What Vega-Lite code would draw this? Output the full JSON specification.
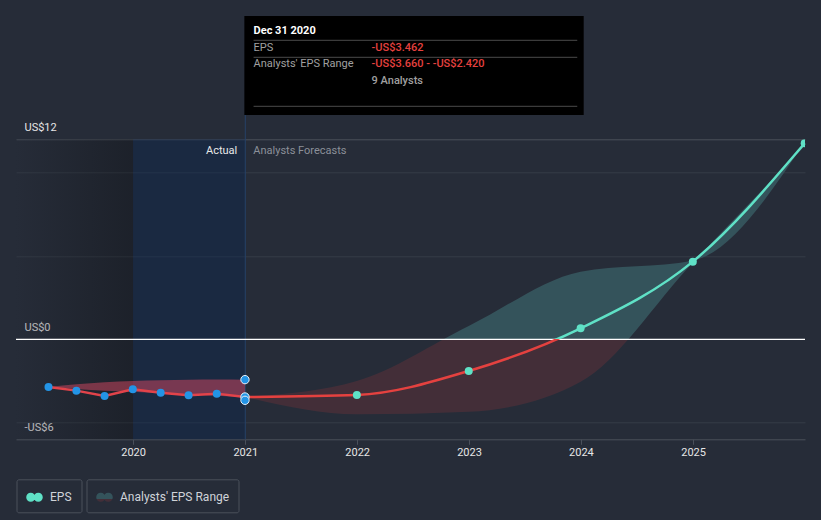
{
  "$schema": "https://vega.github.io/schema/vega-lite/v6.json",
  "width": 789,
  "height": 300,
  "autosize": {"type": "none"},
  "padding": {"left": 16, "top": 139.3, "right": 16, "bottom": 80.7},
  "background": "#262c38",
  "config": {
    "view": {"stroke": null},
    "font": "Roboto",
    "legend": {
      "strokeColor": "#4a505b",
      "cornerRadius": 2,
      "padding": 9,
      "labelFontSize": 12,
      "labelColor": "#d0d3d8",
      "labelFont": "Roboto",
      "symbolSize": 324,
      "symbolStrokeWidth": 0,
      "labelOffset": 6.5,
      "direction": "horizontal"
    }
  },
  "datasets": {
    "one": [{}],
    "actual": [
      {"date": "2019-03-31", "eps": -2.86},
      {"date": "2019-06-30", "eps": -3.08},
      {"date": "2019-09-30", "eps": -3.40},
      {"date": "2019-12-31", "eps": -3.00},
      {"date": "2020-03-31", "eps": -3.20},
      {"date": "2020-06-30", "eps": -3.36},
      {"date": "2020-09-30", "eps": -3.26},
      {"date": "2020-12-31", "eps": -3.462}
    ],
    "actualRange": [
      {"date": "2019-03-31", "lo": -2.86, "hi": -2.86},
      {"date": "2019-06-30", "lo": -2.98, "hi": -2.70},
      {"date": "2019-09-30", "lo": -3.08, "hi": -2.58},
      {"date": "2019-12-31", "lo": -3.14, "hi": -2.50},
      {"date": "2020-03-31", "lo": -3.22, "hi": -2.45},
      {"date": "2020-06-30", "lo": -3.30, "hi": -2.42},
      {"date": "2020-09-30", "lo": -3.38, "hi": -2.41},
      {"date": "2020-12-31", "lo": -3.46, "hi": -2.42}
    ],
    "forecast": [
      {"date": "2020-12-31", "eps": -3.462},
      {"date": "2021-12-31", "eps": -3.34},
      {"date": "2022-12-31", "eps": -1.90},
      {"date": "2023-12-31", "eps": 0.66},
      {"date": "2024-12-31", "eps": 4.66},
      {"date": "2025-12-31", "eps": 11.76}
    ],
    "forecastRange": [
      {"date": "2020-12-31", "lo": -3.462, "hi": -3.462},
      {"date": "2021-12-31", "lo": -4.5, "hi": -2.5},
      {"date": "2022-12-31", "lo": -4.35, "hi": 0.8},
      {"date": "2023-12-31", "lo": -2.54, "hi": 4.06},
      {"date": "2024-12-31", "lo": 4.6, "hi": 4.72},
      {"date": "2025-12-31", "lo": 11.6, "hi": 11.82}
    ],
    "highlight": [
      {"date": "2020-12-31", "eps": -2.42},
      {"date": "2020-12-31", "eps": -3.462},
      {"date": "2020-12-31", "eps": -3.66}
    ]
  },
  "layer": [
    {
      "data": {"name": "one"},
      "mark": {
        "type": "rect",
        "fill": {"gradient": "linear", "x1": 0, "y1": 0, "x2": 1, "y2": 0,
          "stops": [{"offset": 0, "color": "#262c38"}, {"offset": 1, "color": "#000000"}]},
        "opacity": 0.25
      },
      "encoding": {
        "x": {
          "datum": {"year": 2018, "month": 12, "date": 15, "utc": true},
          "type": "temporal",
          "scale": {"type": "utc", "domain": [{"year": 2018, "month": 12, "date": 15, "utc": true}, {"year": 2026, "month": 1, "date": 1, "utc": true}]},
          "axis": {
            "title": null,
            "values": [
              {"year": 2020, "month": 1, "date": 1, "utc": true},
              {"year": 2021, "month": 1, "date": 1, "utc": true},
              {"year": 2022, "month": 1, "date": 1, "utc": true},
              {"year": 2023, "month": 1, "date": 1, "utc": true},
              {"year": 2024, "month": 1, "date": 1, "utc": true},
              {"year": 2025, "month": 1, "date": 1, "utc": true}
            ],
            "format": "%Y",
            "formatType": "utc",
            "grid": false,
            "domainColor": "#4a505b",
            "tickColor": "#4a505b",
            "tickSize": 5,
            "labelColor": "#e6e6e6",
            "labelFontSize": 11,
            "labelPadding": 2,
            "labelFont": "Roboto"
          }
        },
        "x2": {"datum": {"year": 2020, "month": 1, "date": 1, "utc": true}},
        "y": {
          "datum": -6,
          "type": "quantitative",
          "scale": {"domain": [-6, 12], "nice": false, "zero": false},
          "axis": {
            "title": null,
            "values": [-6, -5, 0, 5, 10, 12],
            "labelExpr": "datum.value == 12 ? 'US$12' : datum.value == 0 ? 'US$0' : datum.value == -6 ? '-US$6' : ''",
            "domain": false,
            "ticks": false,
            "tickSize": 0,
            "labelAlign": "left",
            "labelPadding": -8,
            "labelBaseline": "middle",
            "labelOffset": -12,
            "labelColor": "#e6e6e6",
            "labelFontSize": 11,
            "labelFont": "Roboto",
            "labelOverlap": false,
            "labelFlush": false,
            "grid": true,
            "gridColor": {"condition": {"test": "datum.value == 12", "value": "#4a505b"}, "value": "#363c48"},
            "gridOpacity": {"condition": {"test": "datum.value == -6 || datum.value == 0", "value": 0}, "value": 1}
          }
        },
        "y2": {"datum": 12}
      }
    },
    {
      "data": {"name": "one"},
      "mark": {"type": "rect", "fill": "#0a2550", "opacity": 0.4},
      "encoding": {
        "x": {"datum": {"year": 2020, "month": 1, "date": 1, "utc": true}, "type": "temporal"},
        "x2": {"datum": {"year": 2021, "month": 1, "date": 1, "utc": true}},
        "y": {"datum": -6, "type": "quantitative"},
        "y2": {"datum": 12}
      }
    },
    {
      "data": {"name": "one"},
      "mark": {"type": "rule", "stroke": "#264268", "strokeWidth": 1},
      "encoding": {
        "x": {"datum": {"year": 2021, "month": 1, "date": 1, "utc": true}, "type": "temporal"},
        "y": {"datum": -6, "type": "quantitative"},
        "y2": {"datum": 13.46}
      }
    },
    {
      "data": {"name": "actualRange"},
      "mark": {"type": "area", "interpolate": "monotone", "fill": "#d64762", "opacity": 0.5},
      "encoding": {
        "x": {"field": "date", "type": "temporal", "title": null},
        "y": {"field": "lo", "type": "quantitative", "title": null},
        "y2": {"field": "hi"}
      }
    },
    {
      "data": {"name": "forecastRange"},
      "mark": {
        "type": "area",
        "interpolate": "monotone",
        "fill": {"gradient": "linear", "x1": 0, "y1": 0, "x2": 0, "y2": 1,
          "stops": [
            {"offset": 0, "color": "#34535b"},
            {"offset": 0.7243, "color": "#34535b"},
            {"offset": 0.7243, "color": "#432e38"},
            {"offset": 1, "color": "#432e38"}
          ]},
        "strokeWidth": 0,
        "strokeOpacity": 0
      },
      "encoding": {
        "x": {"field": "date", "type": "temporal", "title": null},
        "y": {"field": "lo", "type": "quantitative", "title": null},
        "y2": {"field": "hi"},
        "stroke": {
          "datum": "Analysts' EPS Range",
          "scale": {"domain": ["Analysts' EPS Range"], "range": ["#3a7a82"]},
          "legend": {
            "title": null,
            "orient": "none",
            "legendX": 70.5,
            "legendY": 340,
            "symbolType": "M -0.92 0 C -0.92 -0.276 -0.696 -0.5 -0.42 -0.5 C -0.144 -0.5 0.08 -0.276 0.08 0 C 0.08 0.276 -0.144 0.5 -0.42 0.5 C -0.696 0.5 -0.92 0.276 -0.92 0 Z M -0.08 0 C -0.08 -0.276 0.144 -0.5 0.42 -0.5 C 0.696 -0.5 0.92 -0.276 0.92 0 C 0.92 0.276 0.696 0.5 0.42 0.5 C 0.144 0.5 -0.08 0.276 -0.08 0 Z",
            "symbolFillColor": "#3a7a82",
            "symbolOpacity": 1
          }
        }
      }
    },
    {
      "data": {"name": "one"},
      "mark": {"type": "rule", "stroke": "#ffffff", "strokeWidth": 1.3},
      "encoding": {"y": {"datum": 0, "type": "quantitative"}}
    },
    {
      "data": {"name": "actual"},
      "mark": {"type": "line", "stroke": "#e2434a", "strokeWidth": 2.5},
      "encoding": {
        "x": {"field": "date", "type": "temporal", "title": null},
        "y": {"field": "eps", "type": "quantitative", "title": null}
      }
    },
    {
      "data": {"name": "forecast"},
      "mark": {
        "type": "line",
        "interpolate": "monotone",
        "strokeWidth": 2.5,
        "stroke": {"gradient": "linear", "x1": 0, "y1": 0, "x2": 0, "y2": 1,
          "stops": [
            {"offset": 0, "color": "#5fe1c6"},
            {"offset": 0.7726, "color": "#5fe1c6"},
            {"offset": 0.7726, "color": "#e5413f"},
            {"offset": 1, "color": "#e5413f"}
          ]}
      },
      "encoding": {
        "x": {"field": "date", "type": "temporal", "title": null},
        "y": {"field": "eps", "type": "quantitative", "title": null}
      }
    },
    {
      "data": {"name": "actual"},
      "mark": {"type": "circle", "color": "#2394e6", "size": 64, "opacity": 1},
      "encoding": {
        "x": {"field": "date", "type": "temporal", "title": null},
        "y": {"field": "eps", "type": "quantitative", "title": null}
      }
    },
    {
      "data": {"name": "forecast"},
      "mark": {"type": "circle", "size": 64, "opacity": 1, "clip": true},
      "encoding": {
        "x": {"field": "date", "type": "temporal", "title": null},
        "y": {"field": "eps", "type": "quantitative", "title": null},
        "fill": {
          "datum": "EPS",
          "scale": {"domain": ["EPS"], "range": ["#5fe1c6"]},
          "legend": {
            "title": null,
            "orient": "none",
            "legendX": 0.5,
            "legendY": 340,
            "symbolType": "M -0.92 0 C -0.92 -0.276 -0.696 -0.5 -0.42 -0.5 C -0.144 -0.5 0.08 -0.276 0.08 0 C 0.08 0.276 -0.144 0.5 -0.42 0.5 C -0.696 0.5 -0.92 0.276 -0.92 0 Z M -0.08 0 C -0.08 -0.276 0.144 -0.5 0.42 -0.5 C 0.696 -0.5 0.92 -0.276 0.92 0 C 0.92 0.276 0.696 0.5 0.42 0.5 C 0.144 0.5 -0.08 0.276 -0.08 0 Z"
          }
        }
      }
    },
    {
      "data": {"name": "highlight"},
      "mark": {"type": "circle", "fill": "#2394e6", "stroke": "#e8f0f8", "strokeWidth": 1, "size": 70, "opacity": 1},
      "encoding": {
        "x": {"field": "date", "type": "temporal", "title": null},
        "y": {"field": "eps", "type": "quantitative", "title": null}
      }
    },
    {
      "data": {"name": "one"},
      "mark": {"type": "text", "text": "Actual", "align": "right", "baseline": "middle", "dx": -8, "dy": 12, "fontSize": 11, "color": "#e8e8e8"},
      "encoding": {
        "x": {"datum": {"year": 2021, "month": 1, "date": 1, "utc": true}, "type": "temporal"},
        "y": {"datum": 12, "type": "quantitative"}
      }
    },
    {
      "data": {"name": "one"},
      "mark": {"type": "text", "text": "Analysts Forecasts", "align": "left", "baseline": "middle", "dx": 8, "dy": 12, "fontSize": 11, "color": "#8b9099"},
      "encoding": {
        "x": {"datum": {"year": 2021, "month": 1, "date": 1, "utc": true}, "type": "temporal"},
        "y": {"datum": 12, "type": "quantitative"}
      }
    },
    {
      "data": {"name": "one"},
      "mark": {"type": "rect", "fill": "#000000"},
      "encoding": {
        "x": {"datum": {"year": 2020, "month": 12, "date": 29, "utc": true}, "type": "temporal"},
        "x2": {"datum": {"year": 2024, "month": 1, "date": 10, "utc": true}},
        "y": {"datum": 19.4, "type": "quantitative"},
        "y2": {"datum": 13.46}
      }
    },
    {
      "data": {"name": "one"},
      "mark": {"type": "rule", "stroke": "#4a4a4a", "strokeWidth": 1},
      "encoding": {
        "x": {"datum": {"year": 2021, "month": 1, "date": 28, "utc": true}, "type": "temporal"},
        "x2": {"datum": {"year": 2023, "month": 12, "date": 20, "utc": true}},
        "y": {"datum": 17.94, "type": "quantitative"}
      }
    },
    {
      "data": {"name": "one"},
      "mark": {"type": "rule", "stroke": "#4a4a4a", "strokeWidth": 1},
      "encoding": {
        "x": {"datum": {"year": 2021, "month": 1, "date": 28, "utc": true}, "type": "temporal"},
        "x2": {"datum": {"year": 2023, "month": 12, "date": 20, "utc": true}},
        "y": {"datum": 16.92, "type": "quantitative"}
      }
    },
    {
      "data": {"name": "one"},
      "mark": {"type": "rule", "stroke": "#4a4a4a", "strokeWidth": 1},
      "encoding": {
        "x": {"datum": {"year": 2021, "month": 1, "date": 28, "utc": true}, "type": "temporal"},
        "x2": {"datum": {"year": 2023, "month": 12, "date": 20, "utc": true}},
        "y": {"datum": 13.98, "type": "quantitative"}
      }
    },
    {
      "data": {"name": "one"},
      "mark": {"type": "text", "text": "Dec 31 2020", "align": "left", "baseline": "middle", "fontSize": 11, "fontWeight": "bold", "color": "#ffffff"},
      "encoding": {
        "x": {"datum": {"year": 2021, "month": 1, "date": 28, "utc": true}, "type": "temporal"},
        "y": {"datum": 18.5, "type": "quantitative"}
      }
    },
    {
      "data": {"name": "one"},
      "mark": {"type": "text", "text": "EPS", "align": "left", "baseline": "middle", "fontSize": 11, "color": "#a0a0a0"},
      "encoding": {
        "x": {"datum": {"year": 2021, "month": 1, "date": 28, "utc": true}, "type": "temporal"},
        "y": {"datum": 17.46, "type": "quantitative"}
      }
    },
    {
      "data": {"name": "one"},
      "mark": {"type": "text", "text": "Analysts' EPS Range", "align": "left", "baseline": "middle", "fontSize": 11, "color": "#a0a0a0"},
      "encoding": {
        "x": {"datum": {"year": 2021, "month": 1, "date": 28, "utc": true}, "type": "temporal"},
        "y": {"datum": 16.5, "type": "quantitative"}
      }
    },
    {
      "data": {"name": "one"},
      "mark": {"type": "text", "text": "-US$3.462", "align": "left", "baseline": "middle", "fontSize": 11, "fontWeight": 500, "color": "#e5413f"},
      "encoding": {
        "x": {"datum": {"year": 2022, "month": 2, "date": 17, "utc": true}, "type": "temporal"},
        "y": {"datum": 17.46, "type": "quantitative"}
      }
    },
    {
      "data": {"name": "one"},
      "mark": {"type": "text", "text": "-US$3.660 - -US$2.420", "align": "left", "baseline": "middle", "fontSize": 11, "fontWeight": 500, "color": "#e5413f"},
      "encoding": {
        "x": {"datum": {"year": 2022, "month": 2, "date": 17, "utc": true}, "type": "temporal"},
        "y": {"datum": 16.5, "type": "quantitative"}
      }
    },
    {
      "data": {"name": "one"},
      "mark": {"type": "text", "text": "9 Analysts", "align": "left", "baseline": "middle", "fontSize": 11, "fontWeight": 500, "color": "#a0a0a0"},
      "encoding": {
        "x": {"datum": {"year": 2022, "month": 2, "date": 17, "utc": true}, "type": "temporal"},
        "y": {"datum": 15.5, "type": "quantitative"}
      }
    }
  ]
}
